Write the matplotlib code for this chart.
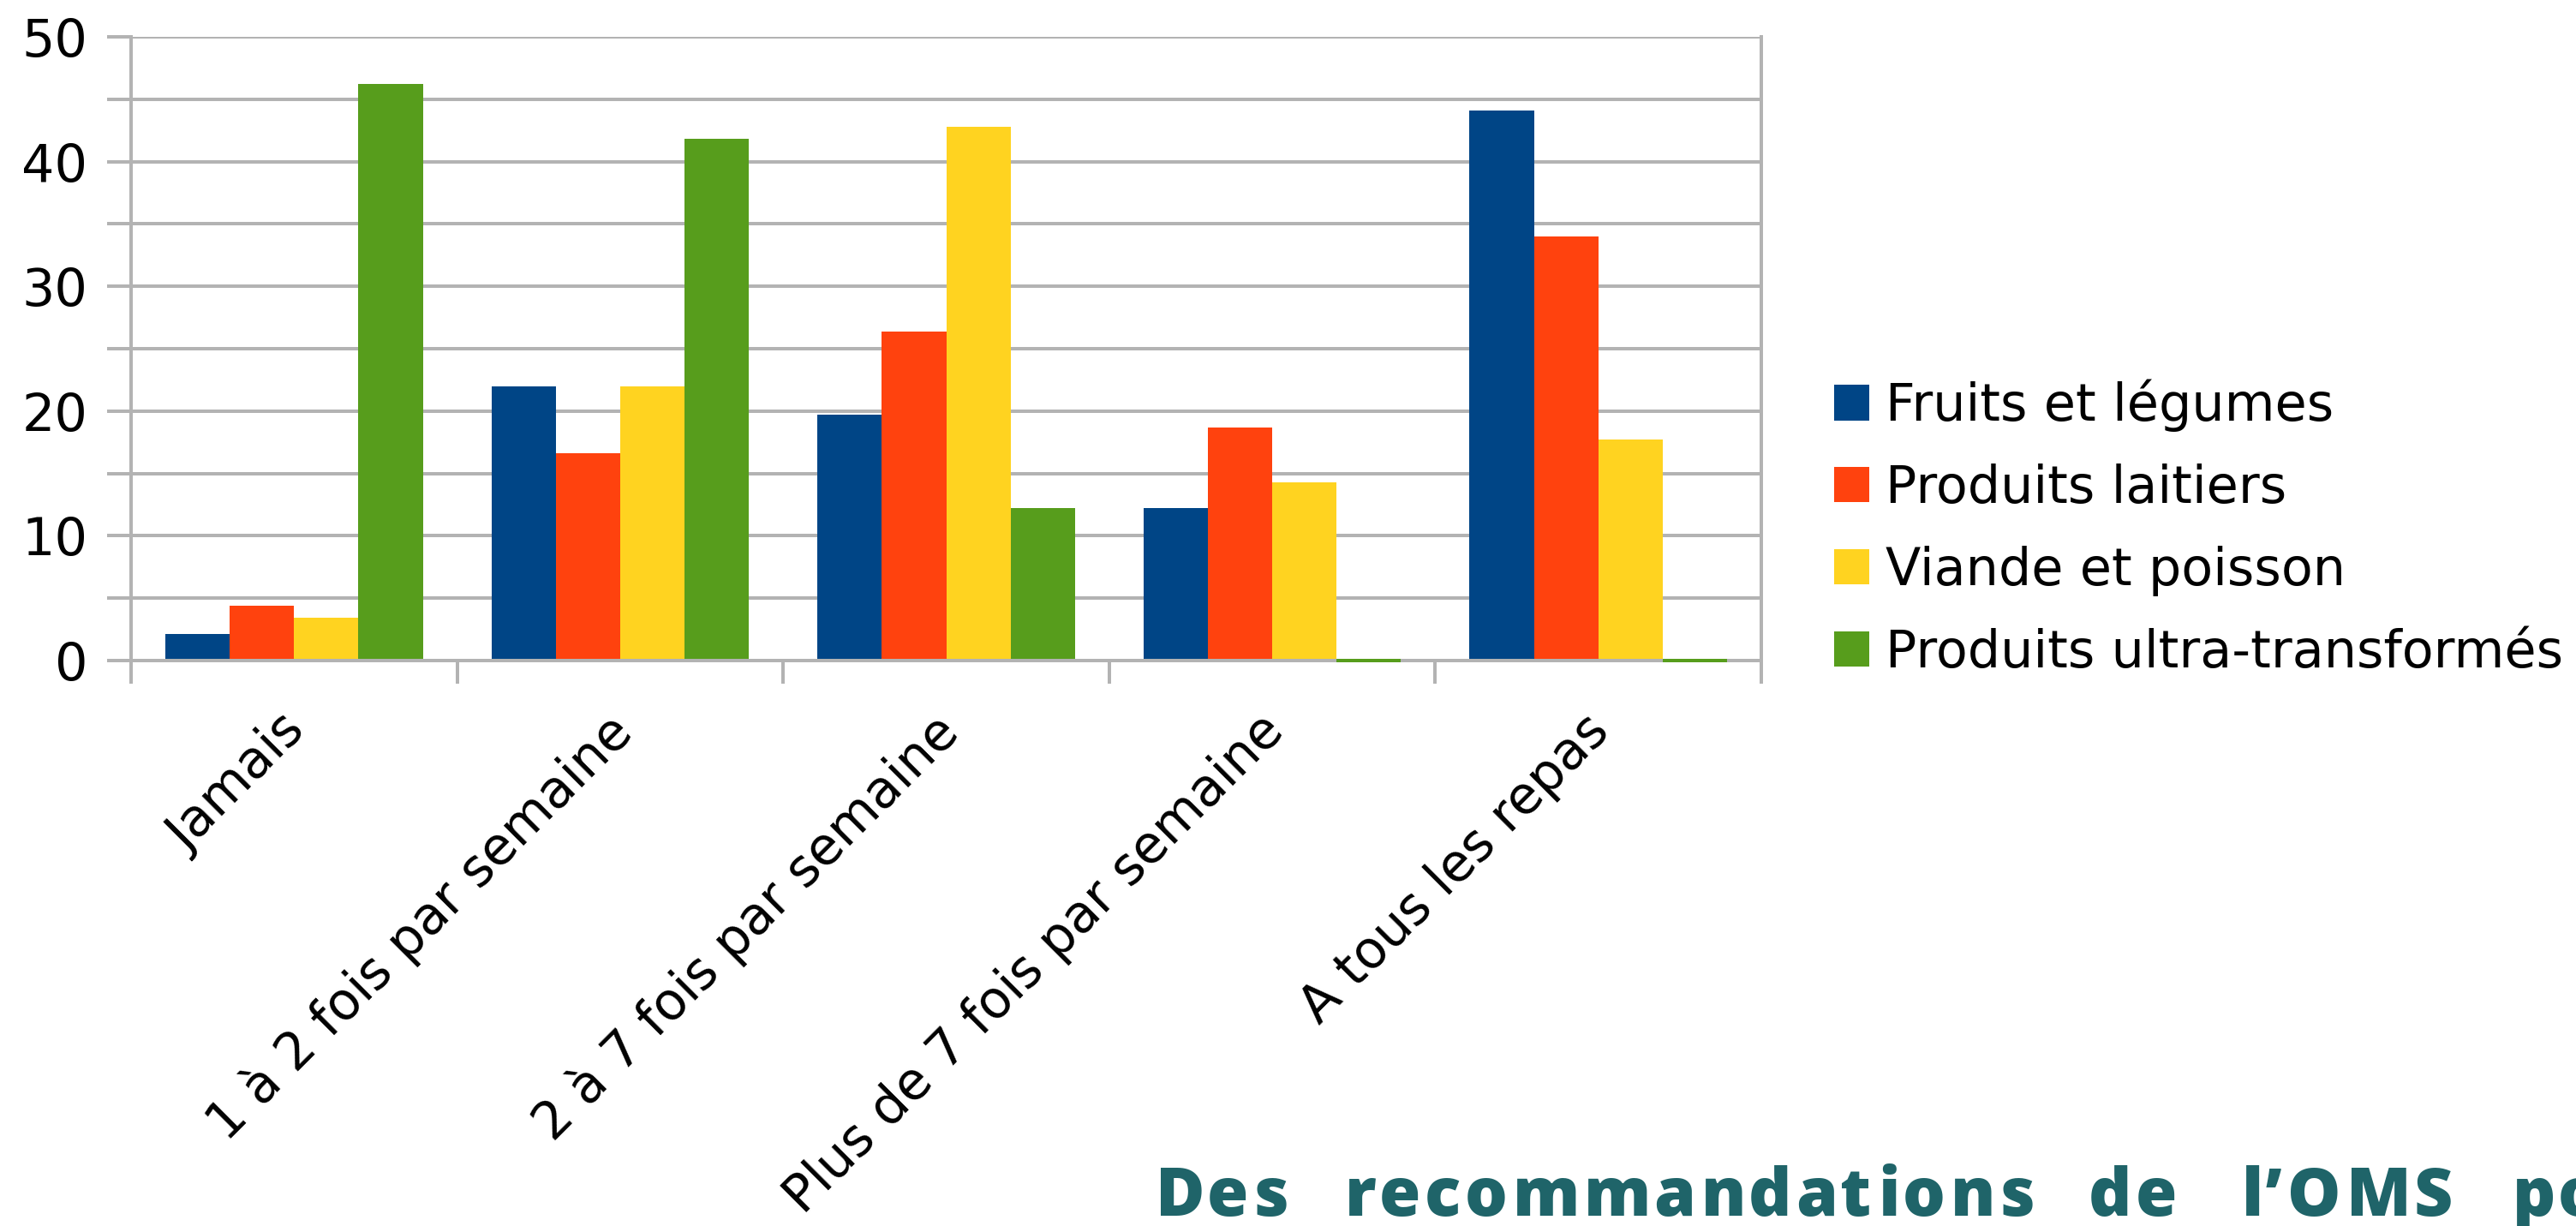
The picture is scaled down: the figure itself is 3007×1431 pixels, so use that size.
import matplotlib
matplotlib.use("Agg")
import matplotlib.pyplot as plt
import numpy as np
from matplotlib.font_manager import FontProperties, findfont, get_font
from matplotlib.ticker import FixedLocator

# ---------------- data ----------------
categories = ["Jamais", "1 à 2 fois par semaine", "2 à 7 fois par semaine",
              "Plus de 7 fois par semaine", "A tous les repas"]
series_names = ["Fruits et légumes", "Produits laitiers", "Viande et poisson",
                "Produits ultra-transformés"]
fruits_legumes = [2.1, 22.0, 19.7, 12.2, 44.1]
produits_laitiers = [4.4, 16.6, 26.4, 18.7, 34.0]
viande_poisson = [3.4, 22.0, 42.8, 14.3, 17.7]
ultra_transformes = [46.2, 41.8, 12.2, 0.0, 0.0]
y_major_ticks = [0, 10, 20, 30, 40, 50]
y_minor_ticks = [5, 15, 25, 35, 45]
title_words = ["Des", "recommandations", "de", "l\u2019OMS", "pour"]

series = [fruits_legumes, produits_laitiers, viande_poisson, ultra_transformes]
colors = ["#004586", "#ff420e", "#ffd320", "#579d1c"]
GRAY = "#b3b3b3"
TEAL = "#1f6469"

# ---------------- figure ----------------
W, H, DPI = 3007, 1431, 100
fig = plt.figure(figsize=(W / DPI, H / DPI), dpi=DPI)
ax_l, ax_r, ax_t, ax_b = 153, 2056, 43, 771
ax = fig.add_axes([ax_l / W, 1 - ax_b / H, (ax_r - ax_l) / W, (ax_b - ax_t) / H])

FS = 43.5
LW = 2.88
n = len(categories)
group = 0.79
bw = group / len(series)
x0 = np.arange(n) + (1 - group) / 2

containers = []
for j, (vals, col) in enumerate(zip(series, colors)):
    bc = ax.bar(x0 + j * bw, vals, width=bw, align="edge", color=col,
                linewidth=0, zorder=2, label=series_names[j])
    containers.append(bc)
    for p, v in zip(bc.patches, vals):
        if v == 0:
            ax.plot([p.get_x(), p.get_x() + p.get_width()], [0, 0], color=col,
                    lw=LW, solid_capstyle="butt", zorder=4, clip_on=False)

ax.set_xlim(0, n)
ax.set_ylim(0, 50)

# y axis
ax.yaxis.set_major_locator(FixedLocator(y_major_ticks))
ax.yaxis.set_minor_locator(FixedLocator(y_minor_ticks))
ax.set_yticklabels([str(t) for t in y_major_ticks], fontsize=FS, family="DejaVu Sans")
ax.tick_params(axis="y", which="both", length=20, width=LW, color=GRAY,
               direction="out", pad=16.5, left=True, right=False)
ax.grid(axis="y", which="both", color=GRAY, lw=LW)
ax.set_axisbelow(True)

# x axis (labels anchored slightly left of the category centre, as in the original)
label_shift = 17 / ((ax_r - ax_l) / n)
ax.set_xticks(np.arange(n) + 0.5 - label_shift)
ax.set_xticks(np.arange(n + 1), minor=True)
ax.set_xticklabels(categories, rotation=45, ha="right", va="top",
                   rotation_mode="anchor", fontsize=FS, family="DejaVu Sans")
ax.tick_params(axis="x", which="major", length=0, pad=37.5)
ax.tick_params(axis="x", which="minor", length=19.5, width=LW, color=GRAY,
               direction="out")

for s in ["left", "right", "bottom"]:
    ax.spines[s].set_color(GRAY)
    ax.spines[s].set_linewidth(LW)
    ax.spines[s].set_zorder(3)
ax.spines["top"].set_visible(False)

# legend
fig.legend(handles=containers, labels=series_names, loc="center left",
           bbox_to_anchor=(2141 / W, 1 - 617 / H), frameon=False,
           prop=FontProperties(family="DejaVu Sans", size=FS),
           handlelength=0.68, handleheight=0.68, handletextpad=0.31,
           labelspacing=0.61, borderpad=0, borderaxespad=0)

# bottom heading (spaced letters, cut at the right edge as in the original)
tfs = 56.5
fp = FontProperties(family="Open Sans", weight=800, size=tfs)
font = get_font(findfont(fp))
font.set_size(tfs, DPI)
tracking = 4.6
word_x_px = [1349, 1570, 2438, 2617, 2933]
baseline_px = 1419
for word, wx in zip(title_words, word_x_px):
    pen = None
    for ch in word:
        g = font.load_char(ord(ch))
        bear = g.horiBearingX / 64.0
        adv = g.linearHoriAdvance / 65536.0
        if pen is None:
            pen = wx - bear
        fig.text((pen + bear) / W, 1 - baseline_px / H, ch, fontproperties=fp,
                 color=TEAL, ha="left", va="baseline")
        pen += adv + tracking

fig.savefig("out.png", dpi=DPI, facecolor="white")
